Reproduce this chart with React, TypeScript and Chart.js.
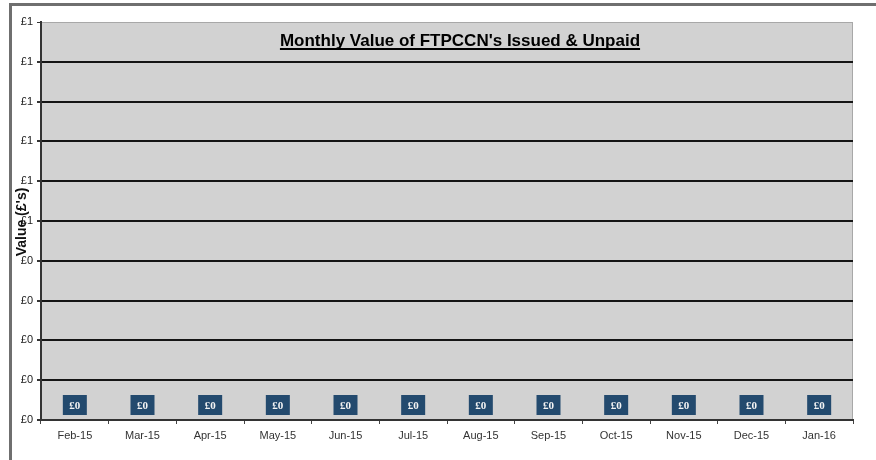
import React, { useEffect, useRef } from "react";
import { Chart, registerables } from "chart.js";

Chart.register(...registerables);

const categories = ["Feb-15", "Mar-15", "Apr-15", "May-15", "Jun-15", "Jul-15", "Aug-15", "Sep-15", "Oct-15", "Nov-15", "Dec-15", "Jan-16"];
const values = [0, 0, 0, 0, 0, 0, 0, 0, 0, 0, 0, 0];
const yMin = 0;
const yMax = 1;
const yStep = 0.1;
const chartTitle = "Monthly Value of FTPCCN's Issued & Unpaid";
const yAxisTitle = "Value (£'s)";

const money = (v: number) => "£" + Math.round(v);

const framePlugin = {
  id: "frame",
  beforeDraw(chart: any) {
    const { ctx, chartArea: a, width, height } = chart;
    ctx.save();
    ctx.fillStyle = "#ffffff";
    ctx.fillRect(0, 0, width, height);
    ctx.strokeStyle = "#6f6f6f";
    ctx.lineWidth = 3;
    ctx.beginPath();
    ctx.moveTo(width, 4.5);
    ctx.lineTo(10.5, 4.5);
    ctx.lineTo(10.5, height);
    ctx.stroke();
    ctx.fillStyle = "#d2d2d2";
    ctx.fillRect(a.left, a.top, a.right - a.left, a.bottom - a.top);
    ctx.strokeStyle = "#a8a8a8";
    ctx.lineWidth = 1;
    ctx.strokeRect(a.left + 0.5, a.top + 0.5, a.right - a.left - 1, a.bottom - a.top - 1);
    ctx.restore();
  },
  afterDraw(chart: any) {
    const { ctx, chartArea: a } = chart;
    ctx.save();
    ctx.font = "bold 17px 'Liberation Sans', Arial, sans-serif";
    ctx.fillStyle = "#000";
    ctx.textAlign = "center";
    ctx.textBaseline = "alphabetic";
    const cx = (a.left + a.right) / 2 + 13;
    const by = 46;
    ctx.fillText(chartTitle, cx, by);
    const w = ctx.measureText(chartTitle).width;
    ctx.fillRect(cx - w / 2, by + 2, w, 2);
    ctx.font = "bold 14px 'Liberation Sans', Arial, sans-serif";
    ctx.fillStyle = "#111";
    ctx.translate(22, 222);
    ctx.rotate(-Math.PI / 2);
    ctx.textBaseline = "middle";
    ctx.fillText(yAxisTitle, 0, 0);
    ctx.restore();

    const meta = chart.getDatasetMeta(0);
    ctx.save();
    meta.data.forEach((bar: any, i: number) => {
      const bw = 24;
      const bh = 20;
      const cy = bar.y - 15;
      ctx.fillStyle = "#234a6e";
      ctx.fillRect(bar.x - bw / 2, cy - bh / 2, bw, bh);
      ctx.fillStyle = "#f4f4f4";
      ctx.font = "bold 11px 'Liberation Serif', serif";
      ctx.textAlign = "center";
      ctx.textBaseline = "middle";
      ctx.fillText(money(values[i]), bar.x, cy + 1);
    });
    ctx.restore();
  },
};

export default function App() {
  const ref = useRef<HTMLCanvasElement>(null);
  useEffect(() => {
    if (!ref.current) return;
    const chart = new Chart(ref.current, {
      type: "bar",
      data: {
        labels: categories,
        datasets: [
          {
            data: values,
            backgroundColor: "#234a6e",
            barPercentage: 0.5,
          },
        ],
      },
      options: {
        animation: false,
        responsive: false,
        layout: { padding: { left: 0, top: 22, right: 23, bottom: 0 } },
        plugins: {
          legend: { display: false },
          title: { display: false },
          tooltip: { enabled: false },
        },
        scales: {
          x: {
            grid: {
              offset: true,
              drawOnChartArea: false,
              drawTicks: true,
              tickLength: 4,
              color: "#444",
            },
            border: { display: true, color: "#333", width: 2 },
            ticks: {
              color: "#333",
              font: { size: 11, family: "'Liberation Sans', Arial, sans-serif" },
              padding: 5,
              maxRotation: 0,
              autoSkip: false,
            },
            afterFit(scale: any) {
              scale.height = 40;
            },
          },
          y: {
            min: yMin,
            max: yMax,
            ticks: {
              stepSize: yStep,
              color: "#222",
              font: { size: 11, family: "'Liberation Sans', Arial, sans-serif" },
              padding: 4,
              callback: (v: any) => money(Number(v)),
            },
            grid: {
              color: (c: any) => (c.index === 10 ? "#a8a8a8" : "#151515"),
              lineWidth: (c: any) => (c.index === 10 ? 1 : 2),
              tickLength: 4,
              tickColor: "#333",
            },
            border: { display: true, color: "#333", width: 2 },
            afterFit(scale: any) {
              scale.width = 41;
            },
          },
        },
      },
      plugins: [framePlugin],
    });
    return () => chart.destroy();
  }, []);
  return (
    <div style={{ position: "fixed", left: 0, top: 0, width: 876, height: 460 }}>
      <canvas ref={ref} width={876} height={460} style={{ width: 876, height: 460 }} />
    </div>
  );
}
